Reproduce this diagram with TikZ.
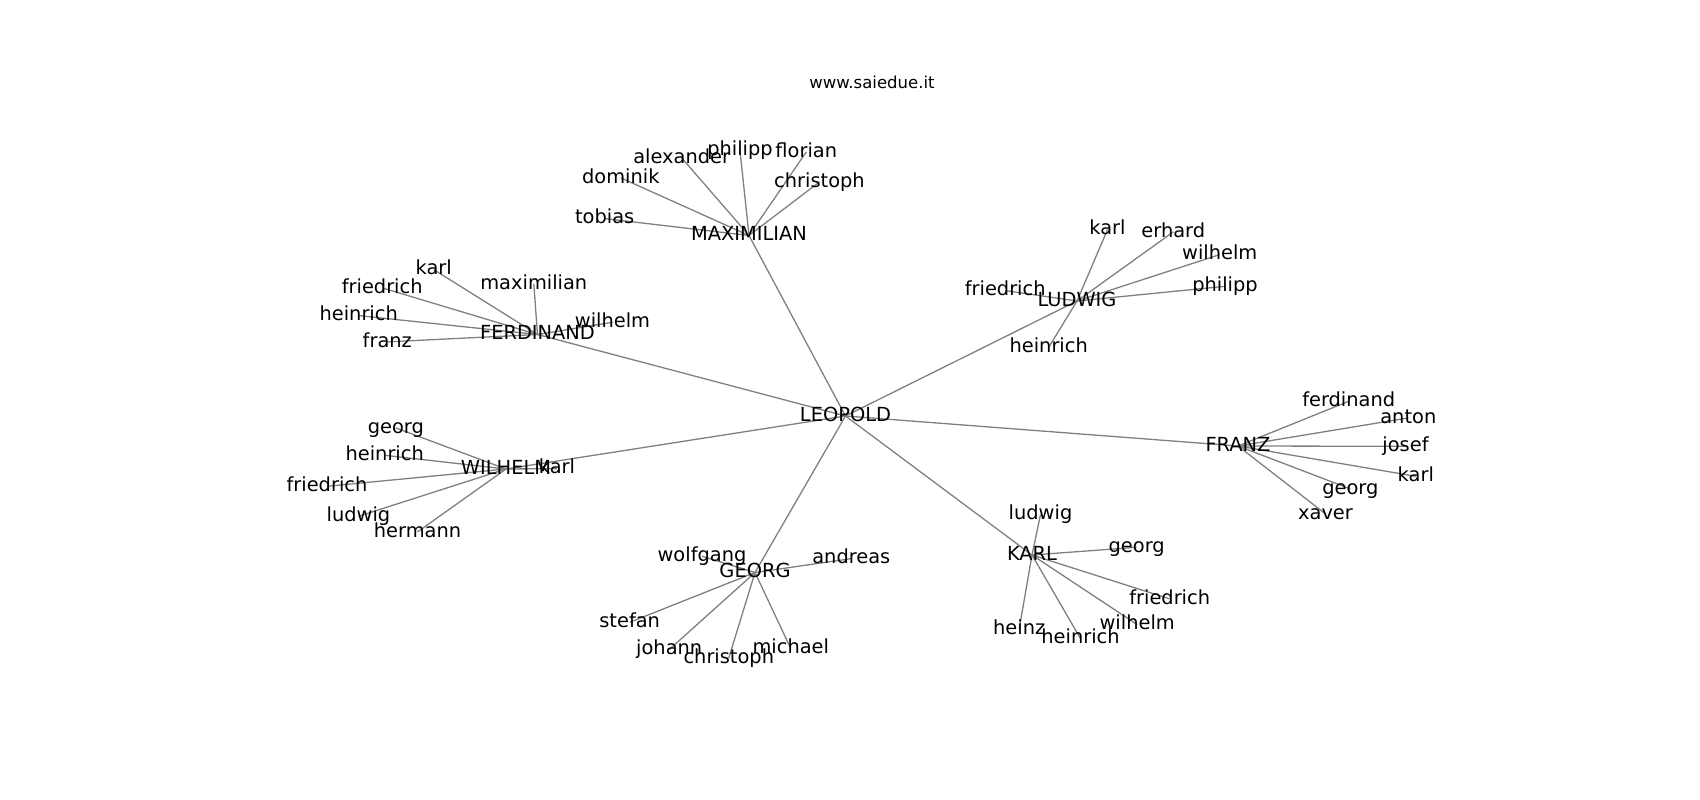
\documentclass[tikz,border=0pt]{standalone}
\usepackage{fontspec}
\setmainfont{DejaVu Sans}
\usetikzlibrary{backgrounds}
\definecolor{edgegray}{RGB}{128,128,128}
\tikzset{
  lbl/.style={inner sep=0pt, outer sep=0pt, text height=14.77pt, text depth=4.04pt,
    font=\fontsize{19.4}{23}\selectfont, text=black},
  edge/.style={draw=edgegray, line width=1.3pt},
  ttl/.style={inner sep=0pt, anchor=base, font=\fontsize{16.5}{20}\selectfont, text=black}
}
\begin{document}
\begin{tikzpicture}[x=1pt,y=-1pt]
\useasboundingbox (0,0) rectangle (1700,800);
\node[ttl] (title) at (872,88.3) {www.saiedue.it};
% hubs
\node[lbl] (LEO) at (845.5,416) {LEOPOLD};
\node[lbl] (MAX) at (749,235.5) {MAXIMILIAN};
\node[lbl] (FER) at (537.5,334.5) {FERDINAND};
\node[lbl] (WIL) at (506,469) {WILHELM};
\node[lbl] (LUD) at (1077,301) {LUDWIG};
\node[lbl] (FRA) at (1238,446) {FRANZ};
\node[lbl] (KAR) at (1032,555) {KARL};
\node[lbl] (GEO) at (755,572.5) {GEORG};
% MAXIMILIAN
\node[lbl] (m1) at (604.7,218.6) {tobias};
\node[lbl] (m2) at (620.8,177.9) {dominik};
\node[lbl] (m3) at (681.7,157.9) {alexander};
\node[lbl] (m4) at (740,150.6) {philipp};
\node[lbl] (m5) at (806.3,151.9) {florian};
\node[lbl] (m6) at (819.5,181.9) {christoph};
% FERDINAND
\node[lbl] (f1) at (433.7,269.6) {karl};
\node[lbl] (f2) at (382.2,287.9) {friedrich};
\node[lbl] (f3) at (358.7,315.6) {heinrich};
\node[lbl] (f4) at (387.3,341.9) {franz};
\node[lbl] (f5) at (533.8,283.9) {maximilian};
\node[lbl] (f6) at (612.5,322.3) {wilhelm};
% WILHELM
\node[lbl] (w1) at (395.8,427.9) {georg};
\node[lbl] (w2) at (384.7,455.3) {heinrich};
\node[lbl] (w3) at (327,486.3) {friedrich};
\node[lbl] (w4) at (358.5,516.3) {ludwig};
\node[lbl] (w5) at (417.5,531.9) {hermann};
\node[lbl] (w6) at (557,468.6) {karl};
% LUDWIG
\node[lbl] (l1) at (1107.5,229.6) {karl};
\node[lbl] (l2) at (1173.3,231.9) {erhard};
\node[lbl] (l3) at (1219.7,254.6) {wilhelm};
\node[lbl] (l4) at (1225,286.3) {philipp};
\node[lbl] (l5) at (1005.2,290.6) {friedrich};
\node[lbl] (l6) at (1048.7,347.3) {heinrich};
% FRANZ
\node[lbl] (r1) at (1348.7,401.3) {ferdinand};
\node[lbl] (r2) at (1408.3,417.9) {anton};
\node[lbl] (r3) at (1405.5,446.3) {josef};
\node[lbl] (r4) at (1415.8,476.3) {karl};
\node[lbl] (r5) at (1350.3,488.9) {georg};
\node[lbl] (r6) at (1325.5,513.9) {xaver};
% KARL
\node[lbl] (k1) at (1040.5,514.6) {ludwig};
\node[lbl] (k2) at (1136.7,547.3) {georg};
\node[lbl] (k3) at (1169.7,598.9) {friedrich};
\node[lbl] (k4) at (1137.2,624.6) {wilhelm};
\node[lbl] (k5) at (1019.2,628.9) {heinz};
\node[lbl] (k6) at (1080.5,638.6) {heinrich};
% GEORG
\node[lbl] (g1) at (702,556.3) {wolfgang};
\node[lbl] (g2) at (851.3,558.6) {andreas};
\node[lbl] (g3) at (629.7,622.3) {stefan};
\node[lbl] (g4) at (669.2,649.6) {johann};
\node[lbl] (g5) at (728.8,657.9) {christoph};
\node[lbl] (g6) at (790.8,648.6) {michael};
\begin{pgfonlayer}{background}
\foreach \h in {MAX,FER,WIL,LUD,FRA,KAR,GEO}
  \draw[edge] (LEO.center) -- (\h.center);
\foreach \c in {m1,m2,m3,m4,m5,m6}
  \draw[edge] (MAX.center) -- (\c.center);
\foreach \c in {f1,f2,f3,f4,f5,f6}
  \draw[edge] (FER.center) -- (\c.center);
\foreach \c in {w1,w2,w3,w4,w5,w6}
  \draw[edge] (WIL.center) -- (\c.center);
\foreach \c in {l1,l2,l3,l4,l5,l6}
  \draw[edge] (LUD.center) -- (\c.center);
\foreach \c in {r1,r2,r3,r4,r5,r6}
  \draw[edge] (FRA.center) -- (\c.center);
\foreach \c in {k1,k2,k3,k4,k5,k6}
  \draw[edge] (KAR.center) -- (\c.center);
\foreach \c in {g1,g2,g3,g4,g5,g6}
  \draw[edge] (GEO.center) -- (\c.center);
\end{pgfonlayer}
\end{tikzpicture}
\end{document}
